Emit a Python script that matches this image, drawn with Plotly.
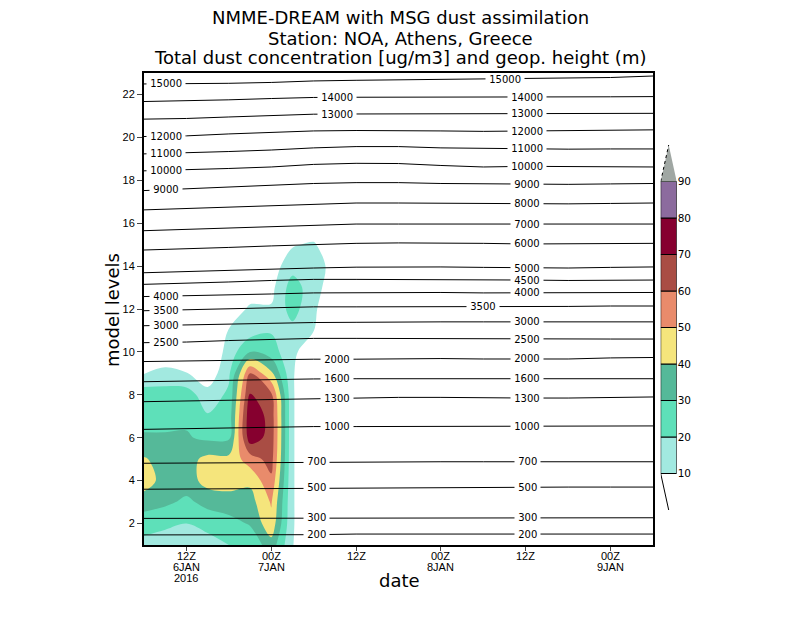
import pandas as pd
import plotly.graph_objects as go

# dust concentration [ug/m3] at the station, 3-hourly, model levels 1..16
dust_times = ["2016-01-06 06:00", "2016-01-06 09:00", "2016-01-06 12:00", "2016-01-06 15:00",
              "2016-01-06 18:00", "2016-01-06 21:00", "2016-01-07 00:00", "2016-01-07 03:00",
              "2016-01-07 06:00", "2016-01-07 09:00", "2016-01-07 12:00"]
dust_levels = [1, 2, 3, 4, 5, 6, 7, 8, 9, 10, 11, 12, 13, 14, 15, 16]
dust_conc = [
    [17, 15, 14, 15, 20, 22, 36, 10.5, 0, 0, 0],
    [24, 22, 20, 24, 26, 31, 47, 11, 0, 0, 0],
    [35, 32, 28, 33, 36, 36, 51, 11, 0, 0, 0],
    [45, 36, 35, 44, 44, 42, 58, 11, 0, 0, 0],
    [41, 36, 36, 43, 43, 55, 64, 11, 0, 0, 0],
    [31, 31, 31, 28, 28, 76, 66, 11, 0, 0, 0],
    [27, 27, 28, 21, 24, 78, 66, 11, 0, 0, 0],
    [26, 24, 25, 14, 22, 71, 62, 11, 0, 0, 0],
    [9.5, 14, 10.5, 3, 18, 60, 42, 11, 0, 0, 0],
    [0, 0, 0, 0, 14, 30, 25, 12, 4, 0, 0],
    [0, 0, 0, 0, 10.5, 15, 19, 17, 10.2, 0, 0],
    [0, 0, 0, 0, 2, 12, 11, 24, 12, 0, 0],
    [0, 0, 0, 0, 0, 3, 7, 25, 14, 4, 0],
    [0, 0, 0, 0, 0, 0, 5, 16, 15, 6, 0],
    [0, 0, 0, 0, 0, 0, 0, 9, 11.5, 0, 0],
    [0, 0, 0, 0, 0, 0, 0, 0, 0, 0, 0],
]

# geopotential height isolines: model level where each height lies, 6-hourly
geo_times = ["2016-01-06 06:00", "2016-01-06 12:00", "2016-01-06 18:00", "2016-01-07 00:00",
             "2016-01-07 06:00", "2016-01-07 12:00", "2016-01-07 18:00", "2016-01-08 00:00",
             "2016-01-08 06:00", "2016-01-08 12:00", "2016-01-08 18:00", "2016-01-09 00:00",
             "2016-01-09 06:00"]
geo_heights = [200, 300, 500, 700, 1000, 1300, 1600, 2000, 2500, 3000, 3500, 4000,
               4500, 5000, 6000, 7000, 8000, 9000, 10000, 11000, 12000, 13000, 14000, 15000]
geo_line_levels = [
    [1.47, 1.47, 1.47, 1.47, 1.48, 1.51, 1.51, 1.51, 1.51, 1.51, 1.51, 1.51, 1.51],
    [2.24, 2.24, 2.26, 2.26, 2.27, 2.27, 2.27, 2.27, 2.27, 2.27, 2.27, 2.27, 2.27],
    [3.60, 3.61, 3.63, 3.66, 3.66, 3.66, 3.68, 3.69, 3.70, 3.70, 3.70, 3.70, 3.70],
    [4.81, 4.82, 4.85, 4.87, 4.88, 4.88, 4.88, 4.88, 4.88, 4.88, 4.88, 4.88, 4.88],
    [6.39, 6.43, 6.45, 6.48, 6.52, 6.52, 6.52, 6.52, 6.52, 6.52, 6.52, 6.52, 6.55],
    [7.68, 7.71, 7.74, 7.78, 7.83, 7.84, 7.88, 7.88, 7.85, 7.85, 7.85, 7.88, 7.90],
    [8.61, 8.65, 8.67, 8.72, 8.74, 8.75, 8.75, 8.75, 8.75, 8.75, 8.75, 8.75, 8.75],
    [9.55, 9.58, 9.60, 9.62, 9.66, 9.66, 9.69, 9.69, 9.67, 9.67, 9.67, 9.72, 9.74],
    [10.43, 10.46, 10.53, 10.58, 10.63, 10.63, 10.62, 10.62, 10.60, 10.60, 10.60, 10.60, 10.60],
    [11.22, 11.26, 11.30, 11.35, 11.37, 11.38, 11.40, 11.40, 11.40, 11.40, 11.40, 11.40, 11.40],
    [11.92, 11.96, 12.00, 12.05, 12.10, 12.10, 12.10, 12.12, 12.12, 12.12, 12.12, 12.14, 12.14],
    [12.58, 12.61, 12.66, 12.70, 12.75, 12.76, 12.77, 12.77, 12.75, 12.75, 12.75, 12.75, 12.77],
    [13.15, 13.19, 13.26, 13.33, 13.38, 13.38, 13.38, 13.35, 13.35, 13.35, 13.33, 13.33, 13.35],
    [13.69, 13.75, 13.80, 13.84, 13.91, 13.95, 13.96, 13.96, 13.94, 13.91, 13.91, 13.94, 13.96],
    [14.75, 14.80, 14.87, 14.94, 15.01, 15.06, 15.08, 15.08, 15.06, 15.03, 15.03, 15.06, 15.06],
    [15.65, 15.71, 15.78, 15.85, 15.92, 15.96, 15.96, 15.96, 15.96, 15.94, 15.94, 15.96, 15.96],
    [16.62, 16.69, 16.76, 16.83, 16.90, 16.94, 16.94, 16.93, 16.92, 16.90, 16.90, 16.92, 16.94],
    [17.52, 17.60, 17.69, 17.76, 17.85, 17.89, 17.89, 17.85, 17.83, 17.81, 17.81, 17.83, 17.85],
    [18.44, 18.48, 18.55, 18.62, 18.74, 18.79, 18.78, 18.69, 18.62, 18.65, 18.65, 18.62, 18.62],
    [19.23, 19.27, 19.34, 19.41, 19.51, 19.57, 19.57, 19.51, 19.48, 19.46, 19.45, 19.46, 19.46],
    [20.04, 20.07, 20.16, 20.23, 20.30, 20.32, 20.32, 20.30, 20.28, 20.29, 20.30, 20.32, 20.35],
    [20.85, 20.88, 20.95, 21.02, 21.08, 21.09, 21.09, 21.09, 21.09, 21.09, 21.09, 21.09, 21.12],
    [21.67, 21.70, 21.75, 21.81, 21.86, 21.87, 21.87, 21.87, 21.86, 21.86, 21.89, 21.89, 21.90],
    [22.49, 22.49, 22.52, 22.56, 22.63, 22.66, 22.68, 22.70, 22.72, 22.72, 22.75, 22.79, 22.86],
]

# shading levels and colours (below 10, 10-20, ..., 80-90, above 90)
shade_levels = [10, 20, 30, 40, 50, 60, 70, 80, 90]
shade_colors = ["#ffffff", "#a2e9e0", "#5ee0b9", "#55b999", "#f5e57c",
                "#e98b6b", "#a94d44", "#86002f", "#8c6b9e", "#a0a7a3"]

# x axis ticks (one list per label line)
tick_times = ["2016-01-06 12:00", "2016-01-07 00:00", "2016-01-07 12:00",
              "2016-01-08 00:00", "2016-01-08 12:00", "2016-01-09 00:00"]
tick_hours = ["12Z", "00Z", "12Z", "00Z", "12Z", "00Z"]
tick_days = ["6JAN", "7JAN", "", "8JAN", "", "9JAN"]
tick_years = ["2016", "", "", "", "", ""]

# where (hours after the first time) each isoline gets its label
label_hours = {15000: [3.1, 51.1], 14000: [27.3, 54.2], 13000: [27.3, 54.2],
               12000: [3.1, 54.2], 11000: [3.1, 54.2], 10000: [3.1, 54.2], 9000: [3.1, 54.2],
               8000: [54.2], 7000: [54.2], 6000: [54.2], 5000: [54.2], 4500: [54.2],
               4000: [3.1, 54.2], 3500: [3.1, 48.0], 3000: [3.1, 54.2], 2500: [3.1, 54.2],
               2000: [27.3, 54.2], 1600: [27.3, 54.2], 1300: [27.3, 54.2], 1000: [27.3, 54.2],
               700: [24.4, 54.2], 500: [24.4, 54.2], 300: [24.4, 54.2], 200: [24.4, 54.2]}

FONT = "DejaVu Sans"
TICKFONT = "Liberation Sans Narrow, Liberation Sans, Arial"
# page has an 8px body margin, so the figure sits at (8, 8)
OFF = 8
L, R, T, B = 144, 100, 73, 73
W, H = 800 - OFF, 618 - OFF
PW, PH = 800 - L - R, 618 - T - B


def px(x):
    return (x - L) / PW


def py(y):
    return (618 - B - y) / PH


fig = go.Figure()

# filled dust concentration
nb = len(shade_colors) - 1
fig.add_trace(go.Contour(
    x=dust_times, y=dust_levels, z=dust_conc,
    contours=dict(start=shade_levels[0], end=shade_levels[-1], size=10,
                  coloring="fill", showlines=False),
    colorscale=[[k / nb, c] for k, c in enumerate(shade_colors)],
    line=dict(width=0), showscale=False, hoverinfo="skip",
))

# geopotential height isolines
t0 = pd.Timestamp(geo_times[0])
geo_hours = [(pd.Timestamp(t) - t0) / pd.Timedelta(hours=1) for t in geo_times]
annotations = []
for h, lev in zip(geo_heights, geo_line_levels):
    fig.add_trace(go.Scatter(x=geo_times, y=lev, mode="lines",
                             line=dict(color="black", width=1), hoverinfo="skip"))
    for hr in label_hours[h]:
        yl = float(pd.Series(lev, index=geo_hours).reindex(
            sorted(set(geo_hours) | {hr})).interpolate(method="index")[hr])
        annotations.append(dict(
            x=(t0 + pd.Timedelta(hours=hr)).strftime("%Y-%m-%d %H:%M"), y=yl,
            xref="x", yref="y", text=f" {h} ", showarrow=False,
            xanchor="center", yanchor="middle",
            bgcolor="white", borderpad=0, font=dict(size=10, family=FONT)))

# date tick labels, one line at a time (GrADS spacing)
for i, row in enumerate([tick_hours, tick_days, tick_years]):
    for t, txt in zip(tick_times, row):
        if txt:
            annotations.append(dict(x=t, y=py(556 + 11 * i), xref="x", yref="paper",
                                    text=txt, showarrow=False, xanchor="center",
                                    yanchor="middle", font=dict(size=11, family=TICKFONT)))

# colour key with triangular ends
fig.add_trace(go.Bar(
    x=[0.5] * (len(shade_levels) - 1), y=[10] * (len(shade_levels) - 1),
    base=shade_levels[:-1], width=1, xaxis="x2", yaxis="y2",
    marker=dict(color=shade_colors[1:-1], line=dict(color="black", width=1)),
    hoverinfo="skip"))
top, step = shade_levels[-1], 10
fig.add_trace(go.Scatter(
    x=[0, 0.5, 1, 0], y=[top, top + step, top, top], xaxis="x2", yaxis="y2",
    mode="lines", fill="toself", fillcolor=shade_colors[-1],
    line=dict(width=0, color=shade_colors[-1]), hoverinfo="skip"))
fig.add_trace(go.Scatter(
    x=[0, 0.5], y=[top, top + step], xaxis="x2", yaxis="y2", mode="lines",
    line=dict(color="black", width=1, dash="dot"), hoverinfo="skip"))
fig.add_trace(go.Scatter(
    x=[0, 0.5], y=[shade_levels[0], shade_levels[0] - step], xaxis="x2", yaxis="y2",
    mode="lines", line=dict(color="black", width=1), hoverinfo="skip"))

# titles
titles = ["NMME-DREAM with MSG dust assimilation", "Station: NOA, Athens, Greece",
          "Total dust concentration [ug/m3] and geop. height (m)"]
for txt, yp in zip(titles, [18, 38, 57.5]):
    annotations.append(dict(x=px(400), y=py(yp), xref="paper", yref="paper", text=txt,
                            showarrow=False, xanchor="center", yanchor="middle",
                            font=dict(size=18, family=FONT)))
annotations.append(dict(x=px(112), y=py(310), xref="paper", yref="paper", text="model levels",
                        textangle=-90, showarrow=False, xanchor="center", yanchor="middle",
                        font=dict(size=18, family=FONT)))
annotations.append(dict(x=px(399), y=py(580), xref="paper", yref="paper", text="date",
                        showarrow=False, xanchor="center", yanchor="middle",
                        font=dict(size=18, family=FONT)))

fig.update_layout(
    width=W, height=H,
    margin=dict(l=L - OFF, r=R, t=T - OFF, b=B),
    paper_bgcolor="white", plot_bgcolor="white",
    font=dict(family=FONT, color="black", size=10),
    showlegend=False, barmode="overlay",
    annotations=annotations,
    xaxis=dict(type="date", domain=[0, px(653)], range=[geo_times[0], geo_times[-1]],
               tickvals=tick_times, showticklabels=False, ticks="outside", ticklen=4,
               showline=True, linewidth=2, linecolor="black", mirror=True,
               showgrid=False, zeroline=False),
    yaxis=dict(range=[1, 23], tickvals=list(range(2, 23, 2)), ticks="outside", ticklen=5,
               showline=True, linewidth=2, linecolor="black", mirror=True,
               showgrid=False, zeroline=False, tickfont=dict(size=11, family=TICKFONT)),
    xaxis2=dict(domain=[px(660.7), px(676.7)], range=[0, 1], visible=False, anchor="y2"),
    yaxis2=dict(domain=[py(510), py(145)], range=[0, 100], anchor="x2", side="right",
                tickvals=shade_levels, ticks="", showgrid=False, zeroline=False,
                showline=False, tickfont=dict(size=10.5, family=FONT)),
)

fig.write_html("out.html")
